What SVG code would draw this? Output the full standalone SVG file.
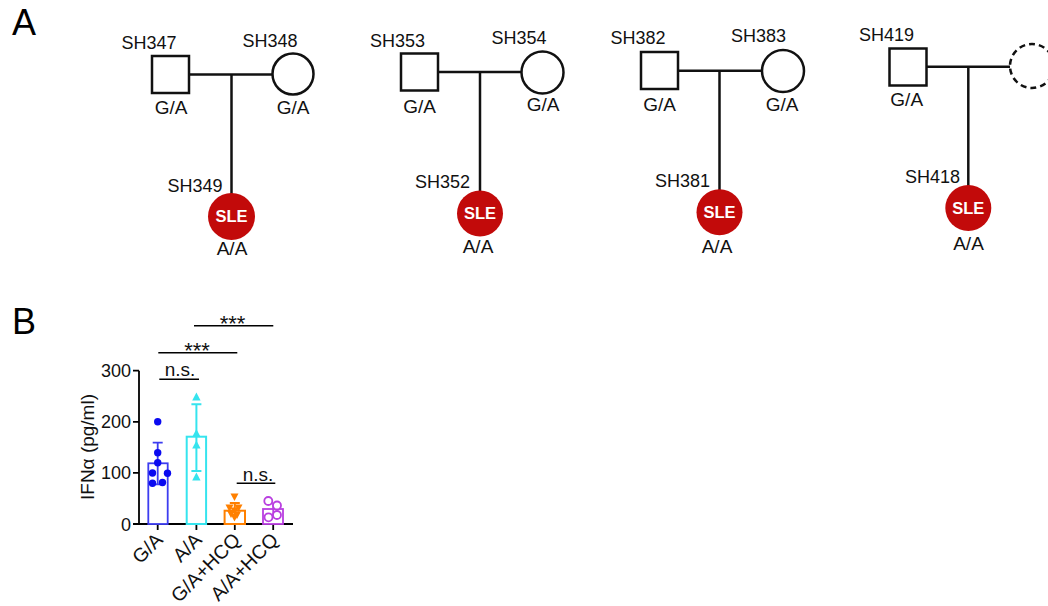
<svg xmlns="http://www.w3.org/2000/svg" width="1048" height="606" viewBox="0 0 1048 606">
  <style>
    .t { font-family: "Liberation Sans", Arial, sans-serif; fill: #111; }
    .id { font-size: 18px; text-anchor: middle; }
    .idr { font-size: 18px; text-anchor: end; }
    .gt { font-size: 19px; text-anchor: middle; }
    .sle { font-family: "Liberation Sans", Arial, sans-serif; font-size: 16.5px; font-weight: bold; fill: #fff; text-anchor: middle; }
    .panel { font-family: "Liberation Sans", Arial, sans-serif; font-size: 36px; fill: #000; }
    .male { fill: #fff; stroke: #111; stroke-width: 2.5; }
    .female { fill: #fff; stroke: #111; stroke-width: 2.5; }
    .unknown { fill: #fff; stroke: #111; stroke-width: 2.5; stroke-dasharray: 6 4; }
    .affected { fill: #c20a0a; stroke: none; }
    .link { stroke: #111; stroke-width: 2.5; fill: none; }
    .axis { stroke: #000; stroke-width: 1.8; fill: none; }
    .tick { font-family: "Liberation Sans", Arial, sans-serif; font-size: 18px; fill: #111; text-anchor: end; }
    .xl { font-family: "Liberation Sans", Arial, sans-serif; font-size: 19.5px; fill: #111; text-anchor: end; }
    .sig { font-family: "Liberation Sans", Arial, sans-serif; font-size: 19px; fill: #111; text-anchor: middle; }
    .star { font-family: "Liberation Sans", Arial, sans-serif; font-size: 22px; fill: #111; text-anchor: middle; }
    .bline { stroke: #000; stroke-width: 1.6; }
  </style>

  <!-- panel letters -->
  <text class="panel" x="12" y="35">A</text>
  <text class="panel" x="12" y="334">B</text>

  <!-- pedigree connectors -->
  <g id="connectors">
    <line class="link" x1="189" y1="74.5" x2="272.5" y2="74.5"/>
    <line class="link" x1="231.5" y1="74.5" x2="231.5" y2="194"/>
    <line class="link" x1="438" y1="72" x2="521.5" y2="72"/>
    <line class="link" x1="480" y1="72" x2="480" y2="191"/>
    <line class="link" x1="678" y1="70.7" x2="762" y2="70.7"/>
    <line class="link" x1="719.5" y1="70.7" x2="719.5" y2="190"/>
    <line class="link" x1="926.5" y1="66.7" x2="1010" y2="66.7"/>
    <line class="link" x1="968.3" y1="66.7" x2="968.3" y2="186"/>
  </g>

  <!-- family 1 -->
  <g id="SH347">
    <rect class="male" x="152" y="56" width="37" height="37"/>
    <text class="t id" x="149" y="49">SH347</text>
    <text class="t gt" x="171" y="114">G/A</text>
  </g>
  <g id="SH348">
    <circle class="female" cx="293" cy="74" r="20.5"/>
    <text class="t id" x="270" y="46.7">SH348</text>
    <text class="t gt" x="293" y="114">G/A</text>
  </g>
  <g id="SH349">
    <circle class="affected" cx="231.5" cy="216.5" r="23.5"/>
    <text class="sle" x="231.5" y="222.4">SLE</text>
    <text class="t idr" x="222.5" y="191.5">SH349</text>
    <text class="t gt" x="232" y="255">A/A</text>
  </g>

  <!-- family 2 -->
  <g id="SH353">
    <rect class="male" x="401" y="53.5" width="37" height="37"/>
    <text class="t id" x="397.5" y="46.5">SH353</text>
    <text class="t gt" x="419.5" y="112.5">G/A</text>
  </g>
  <g id="SH354">
    <circle class="female" cx="542.5" cy="72.5" r="21"/>
    <text class="t id" x="519" y="44">SH354</text>
    <text class="t gt" x="543" y="110.5">G/A</text>
  </g>
  <g id="SH352">
    <circle class="affected" cx="480" cy="213.5" r="23"/>
    <text class="sle" x="480" y="219.4">SLE</text>
    <text class="t idr" x="470" y="188">SH352</text>
    <text class="t gt" x="478" y="253">A/A</text>
  </g>

  <!-- family 3 -->
  <g id="SH382">
    <rect class="male" x="641" y="52" width="37" height="37"/>
    <text class="t id" x="638" y="44">SH382</text>
    <text class="t gt" x="659.5" y="110.7">G/A</text>
  </g>
  <g id="SH383">
    <circle class="female" cx="783" cy="71" r="21"/>
    <text class="t id" x="758.5" y="41.7">SH383</text>
    <text class="t gt" x="782" y="110.7">G/A</text>
  </g>
  <g id="SH381">
    <circle class="affected" cx="719.5" cy="212.3" r="23"/>
    <text class="sle" x="719.5" y="218.2">SLE</text>
    <text class="t idr" x="710" y="186.5">SH381</text>
    <text class="t gt" x="717" y="253">A/A</text>
  </g>

  <!-- family 4 -->
  <g id="SH419">
    <rect class="male" x="889.5" y="48.5" width="37" height="37"/>
    <text class="t id" x="886.5" y="40.7">SH419</text>
    <text class="t gt" x="906.7" y="106">G/A</text>
  </g>
  <g id="mother-unknown">
    <circle class="unknown" cx="1032" cy="66" r="22"/>
  </g>
  <g id="SH418">
    <circle class="affected" cx="968.3" cy="208" r="23"/>
    <text class="sle" x="968.3" y="213.9">SLE</text>
    <text class="t idr" x="960" y="183.3">SH418</text>
    <text class="t gt" x="968.5" y="250">A/A</text>
  </g>

  <!-- panel B: IFN-alpha bar chart -->
  <g id="chart">
    <!-- axes -->
    <path class="axis" d="M139 370.7 V524 H293"/>
    <path class="axis" d="M133 370.7 H139 M133 421.8 H139 M133 472.9 H139 M133 524 H139"/>
    <path class="axis" d="M157.7 524 V530 M196.4 524 V530 M234.8 524 V530 M273.2 524 V530"/>
    <text class="tick" x="131" y="377">300</text>
    <text class="tick" x="131" y="428">200</text>
    <text class="tick" x="131" y="479">100</text>
    <text class="tick" x="131" y="530.5">0</text>
    <text class="t" font-size="19" text-anchor="middle" transform="translate(94 447) rotate(-90)">IFNα (pg/ml)</text>

    <!-- category labels -->
    <text class="xl" transform="translate(164 541) rotate(-45)">G/A</text>
    <text class="xl" transform="translate(203 541) rotate(-45)">A/A</text>
    <text class="xl" transform="translate(241.5 541) rotate(-45)">G/A+HCQ</text>
    <text class="xl" transform="translate(279.5 541) rotate(-45)">A/A+HCQ</text>

    <!-- G/A -->
    <g id="bar-GA" stroke="#3d3df0" fill="none" stroke-width="1.8">
      <rect x="148.3" y="463.3" width="19.4" height="60.7" fill="#fff"/>
      <path d="M157.7 442.7 V484.3 M152.7 442.7 H162.7 M152.7 484.3 H162.7"/>
      <g fill="#0a0af0" stroke="none">
        <circle cx="157.7" cy="421.7" r="3.7"/>
        <circle cx="157.7" cy="452.7" r="3.7"/>
        <circle cx="157.7" cy="462.7" r="3.7"/>
        <circle cx="152.5" cy="473" r="3.7"/>
        <circle cx="167.5" cy="473.3" r="3.7"/>
        <circle cx="152.5" cy="483.3" r="3.7"/>
        <circle cx="162.5" cy="482.5" r="3.7"/>
      </g>
    </g>

    <!-- A/A -->
    <g id="bar-AA" stroke="#35e4ee" fill="none" stroke-width="2">
      <rect x="186.7" y="436.7" width="19.4" height="87.3" fill="#fff"/>
      <path d="M196.4 404.3 V471 M191.4 404.3 H201.4 M191.4 471 H201.4"/>
      <g fill="#35e4ee" stroke="none">
        <path d="M196.4 392.5 L200.6 400.5 L192.2 400.5 Z"/>
        <path d="M196.4 429 L200.6 437 L192.2 437 Z"/>
        <path d="M196.4 440.5 L200.6 448.5 L192.2 448.5 Z"/>
        <path d="M196.4 472.5 L200.6 480.5 L192.2 480.5 Z"/>
      </g>
    </g>

    <!-- G/A+HCQ -->
    <g id="bar-GA-HCQ" stroke="#ff8000" fill="none" stroke-width="2">
      <rect x="224.6" y="510.7" width="20.4" height="13.3" fill="#fff"/>
      <path d="M234.8 503 V518 M229.8 503 H239.8"/>
      <g fill="#ff8000" stroke="none">
        <path d="M230.5 493.5 L238.5 493.5 L234.5 501 Z"/>
        <path d="M225.5 504.5 L233.5 504.5 L229.5 512 Z"/>
        <path d="M234.5 504.5 L242.5 504.5 L238.5 512 Z"/>
        <path d="M230.5 507.5 L238.5 507.5 L234.5 515 Z"/>
        <path d="M227 510.5 L235 510.5 L231 518 Z"/>
        <path d="M233 511.5 L241 511.5 L237 519 Z"/>
        <path d="M230.5 514 L238.5 514 L234.5 521.5 Z"/>
      </g>
    </g>

    <!-- A/A+HCQ -->
    <g id="bar-AA-HCQ" stroke="#b93fe0" fill="none" stroke-width="1.8">
      <rect x="263" y="509" width="20" height="15" fill="#fff"/>
      <path d="M273.2 503 V516"/>
      <g fill="#fff" stroke-width="1.8">
        <circle cx="268.3" cy="501" r="4"/>
        <circle cx="277" cy="505.5" r="4"/>
        <circle cx="277" cy="515" r="4"/>
        <circle cx="268.5" cy="517.3" r="4"/>
      </g>
    </g>

    <!-- significance -->
    <line class="bline" x1="159.3" y1="379.3" x2="199" y2="379.3"/>
    <text class="sig" x="180" y="376">n.s.</text>
    <line class="bline" x1="158.3" y1="352.7" x2="237.3" y2="352.7"/>
    <text class="star" x="197" y="358">***</text>
    <line class="bline" x1="194" y1="325.7" x2="273.3" y2="325.7"/>
    <text class="star" x="232.5" y="331">***</text>
    <line class="bline" x1="236.7" y1="483.3" x2="275.3" y2="483.3"/>
    <text class="sig" x="258" y="480.5">n.s.</text>
  </g>
</svg>
